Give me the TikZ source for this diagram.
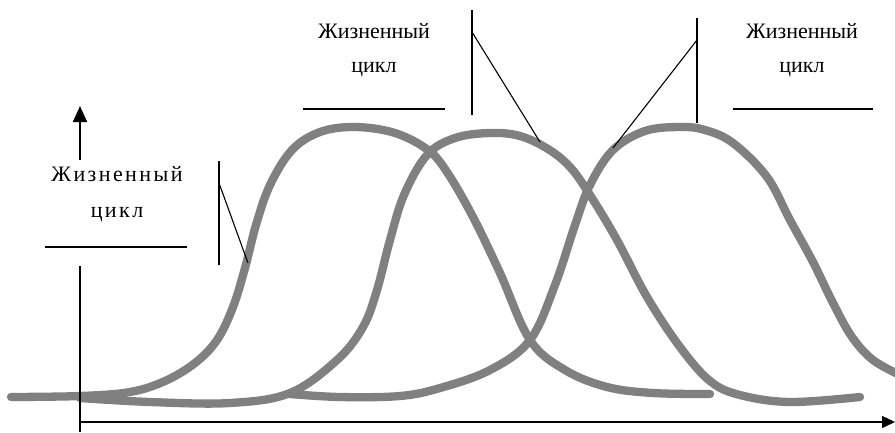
\documentclass[tikz,border=0pt]{standalone}
\usepackage{fontspec}
\setmainfont{Liberation Serif}
\usetikzlibrary{arrows.meta}
\definecolor{curvegray}{RGB}{128,128,128}
\begin{document}
\begin{tikzpicture}[x=1pt,y=-1pt,
  lbl/.style={font=\fontsize{22}{22}\selectfont, inner sep=0pt, anchor=base},
  wide/.style={font=\fontsize{22}{22}\selectfont\addfontfeature{LetterSpace=11}},
  bell/.style={draw=curvegray, line width=8.3pt, line cap=round, line join=round},
  thin/.style={draw=black, line width=1.1pt},
  axis/.style={draw=black, line width=1.7pt}]
\useasboundingbox (0,0) rectangle (895,432);

% curves
\draw[bell] plot[smooth, tension=0.6] coordinates {(11,397) (80,396) (130,392) (165,381) (195,363) (217,340) (233,307) (245,268) (256,225) (270,185) (292,150) (320,132) (355,127) (395,133) (428,150) (447,172) (473,217) (500,273) (530,340) (565,370) (607,387) (653,393) (710,394)};
\draw[bell] plot[smooth, tension=0.6] coordinates {(80,398) (150,402) (230,403) (290,393) (337,360) (363,327) (377,290) (390,240) (404,195) (427,155) (455,138) (490,133) (520,136) (548,149) (570,167) (590,195) (617,240) (647,297) (680,347) (710,381) (740,395) (790,402) (860,397)};
\draw[bell] plot[smooth, tension=0.6] coordinates {(290,394) (340,397) (400,396) (440,388) (490,370) (530,340) (555,285) (575,225) (590,185) (613,150) (645,131) (680,127) (705,130) (733,143) (767,177) (790,220) (813,262) (833,303) (852,337) (873,360) (900,375)};

% axes
\coordinate (vtop) at (80,106);
\coordinate (vlow) at (80,160);
\coordinate (vmid) at (80,266);
\coordinate (vbot) at (80,432);
\coordinate (hl) at (80,422);
\coordinate (hr) at (895,422);
\draw[axis, -{Triangle[length=16pt,width=14pt]}] (vlow) -- (vtop);
\draw[axis] (vmid) -- (vbot);
\draw[axis, line width=1.4pt, -{Triangle[length=13pt,width=12pt]}] (hl) -- (hr);

% labels
\node[lbl, wide] (t1a) at (117,181) {Жизненный};
\node[lbl, wide] (t1b) at (117,217) {цикл};
\node[lbl] (t2a) at (374,38) {Жизненный};
\node[lbl] (t2b) at (374,72) {цикл};
\node[lbl] (t3a) at (802,38) {Жизненный};
\node[lbl] (t3b) at (802,72) {цикл};

% label rules
\coordinate (r1a) at (45,247); \coordinate (r1b) at (187,247);
\coordinate (r2a) at (303,109); \coordinate (r2b) at (445,109);
\coordinate (r3a) at (733,109); \coordinate (r3b) at (873,109);
\draw[thin] (r1a) -- (r1b);
\draw[thin] (r2a) -- (r2b);
\draw[thin] (r3a) -- (r3b);

% pointers
\coordinate (p1t) at (219,161); \coordinate (p1b) at (219,265);
\coordinate (p1k) at (219,183); \coordinate (p1e) at (248,263);
\coordinate (p2t) at (472,10); \coordinate (p2b) at (472,115);
\coordinate (p2k) at (472,32); \coordinate (p2e) at (540,142);
\coordinate (p3t) at (697,18); \coordinate (p3b) at (697,123);
\coordinate (p3k) at (697,40); \coordinate (p3e) at (613,148);
\draw[thin] (p1t) -- (p1b);
\draw[thin] (p1k) -- (p1e);
\draw[thin] (p2t) -- (p2b);
\draw[thin] (p2k) -- (p2e);
\draw[thin] (p3t) -- (p3b);
\draw[thin] (p3k) -- (p3e);
\end{tikzpicture}
\end{document}
